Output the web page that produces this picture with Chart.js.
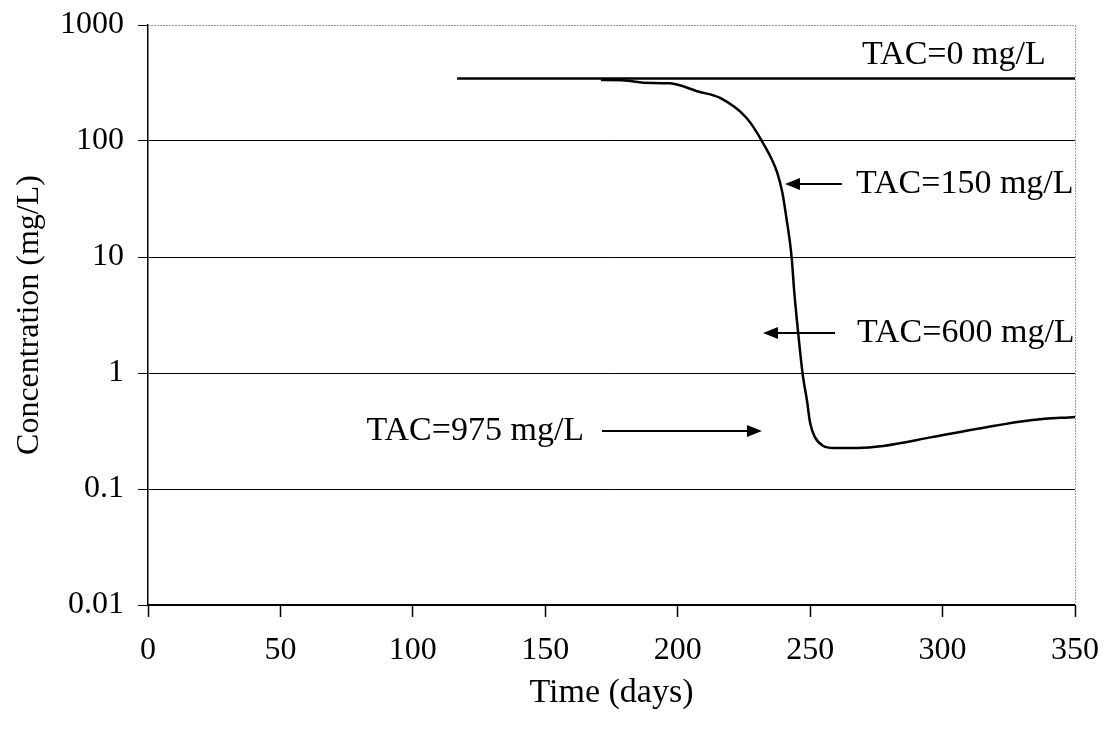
<!DOCTYPE html>
<html lang="en">
<head>
    <meta charset="UTF-8">
    <title>Concentration vs Time</title>
    <script src="https://cdn.jsdelivr.net/npm/chart.js"></script>
    <style>
        html, body { margin: 0; padding: 0; background: #fff; }
        #wrap { width: 1107px; height: 731px; }
    </style>
</head>
<body>
<div id="wrap"><canvas id="chartConc"></canvas></div>

<script>
// data
const yTicks = [0.01, 0.1, 1, 10, 100, 1000];

const tac0Days = [116.7, 350];
const tac0Conc = [345, 345];

const curveDays = [171, 180, 187, 197, 208, 216, 226, 232, 237.5, 239.5, 241, 243, 244, 246, 247.3, 248.8, 250, 251.8, 255, 258.7, 268, 277.5, 296, 315, 334, 350];
const curveConc = [335, 333, 318, 314, 266, 235, 158, 98, 54, 36, 22, 10, 5, 1.7, 0.93, 0.58, 0.37, 0.28, 0.235, 0.226, 0.226, 0.235, 0.28, 0.336, 0.393, 0.418];

// annotation labels: text anchor (days, mg/L), arrow from -> to (days), at text height
const labelText = ['TAC=0 mg/L', 'TAC=150 mg/L', 'TAC=600 mg/L', 'TAC=975 mg/L'];
const labelDay  = [269.6, 267.3, 267.7, 82.5];
const labelConc = [551, 42.6, 2.21, 0.316];
const arrowFrom = [null, 262.0, 259.4, 171.4];
const arrowTo   = [null, 240.5, 232.2, 231.8];

const serif = "'Times New Roman', 'Liberation Serif', serif";

const toXY = (xs, ys) => xs.map((x, i) => ({ x: x, y: ys[i] }));

// draws the labels, arrows and the grey top/right frame
const extras = {
    id: 'extras',
    afterDraw(chart) {
        const ctx = chart.ctx, a = chart.chartArea;
        const xs = chart.scales.x, ys = chart.scales.y;
        ctx.save();
        ctx.strokeStyle = '#999';
        ctx.lineWidth = 1;
        ctx.setLineDash([2, 1]);
        ctx.beginPath();
        ctx.moveTo(a.left, a.top + 0.5);
        ctx.lineTo(a.right + 0.5, a.top + 0.5);
        ctx.lineTo(a.right + 0.5, a.bottom);
        ctx.stroke();
        ctx.setLineDash([]);

        ctx.fillStyle = '#000';
        ctx.strokeStyle = '#000';
        ctx.font = '34px ' + serif;
        ctx.textBaseline = 'middle';
        labelText.forEach((t, i) => {
            const px = xs.getPixelForValue(labelDay[i]);
            const py = ys.getPixelForValue(labelConc[i]);
            ctx.fillText(t, px, py);
            if (arrowFrom[i] === null) return;
            const x1 = xs.getPixelForValue(arrowFrom[i]);
            const x2 = xs.getPixelForValue(arrowTo[i]);
            const dir = x2 > x1 ? 1 : -1;
            ctx.lineWidth = 2;
            ctx.beginPath();
            ctx.moveTo(x1, py);
            ctx.lineTo(x2 - dir * 12, py);
            ctx.stroke();
            ctx.beginPath();
            ctx.moveTo(x2, py);
            ctx.lineTo(x2 - dir * 15, py - 6);
            ctx.lineTo(x2 - dir * 15, py + 6);
            ctx.closePath();
            ctx.fill();
        });
        ctx.restore();
    }
};

new Chart(document.getElementById('chartConc'), {
    type: 'scatter',
    data: {
        datasets: [
            { label: 'TAC=0 mg/L', data: toXY(tac0Days, tac0Conc), showLine: true,
              borderColor: '#000', borderWidth: 2.5, pointRadius: 0 },
            { label: 'TAC>0', data: toXY(curveDays, curveConc), showLine: true,
              borderColor: '#000', borderWidth: 2.5, pointRadius: 0, cubicInterpolationMode: 'monotone' }
        ]
    },
    options: {
        responsive: true,
        maintainAspectRatio: false,
        animation: false,
        layout: { padding: { top: 25, right: 32, left: 0, bottom: 18 } },
        plugins: { legend: { display: false }, tooltip: { enabled: false } },
        scales: {
            x: {
                type: 'linear', min: 0, max: 350,
                ticks: { stepSize: 50, color: '#000', padding: 14, font: { family: serif, size: 32 } },
                grid: { drawOnChartArea: false, color: '#000', tickLength: 12, tickWidth: 1.5 },
                border: { color: '#000', width: 2 },
                title: { display: true, text: 'Time (days)', color: '#000', font: { family: serif, size: 34 }, padding: { top: 0, bottom: 0 } },
                afterFit: s => { s.height = 108; s.paddingLeft = 0; s.paddingRight = 0; }
            },
            y: {
                type: 'logarithmic', min: 0.01, max: 1000,
                afterBuildTicks: s => { s.ticks = yTicks.map(v => ({ value: v })); },
                ticks: { color: '#000', padding: 14, font: { family: serif, size: 32 }, callback: v => String(v) },
                grid: { color: c => c.tick && c.tick.value === 1000 ? 'rgba(0,0,0,0)' : '#000', lineWidth: 1, tickLength: 10,
                        tickColor: '#000' },
                border: { color: '#000', width: 1.5 },
                title: { display: true, text: 'Concentration (mg/L)', color: '#000', font: { family: serif, size: 32 }, padding: { top: 10, bottom: 4 } },
                afterFit: s => { s.width = 148; s.paddingTop = 0; s.paddingBottom = 0; }
            }
        }
    },
    plugins: [extras]
});
</script>
</body>
</html>
